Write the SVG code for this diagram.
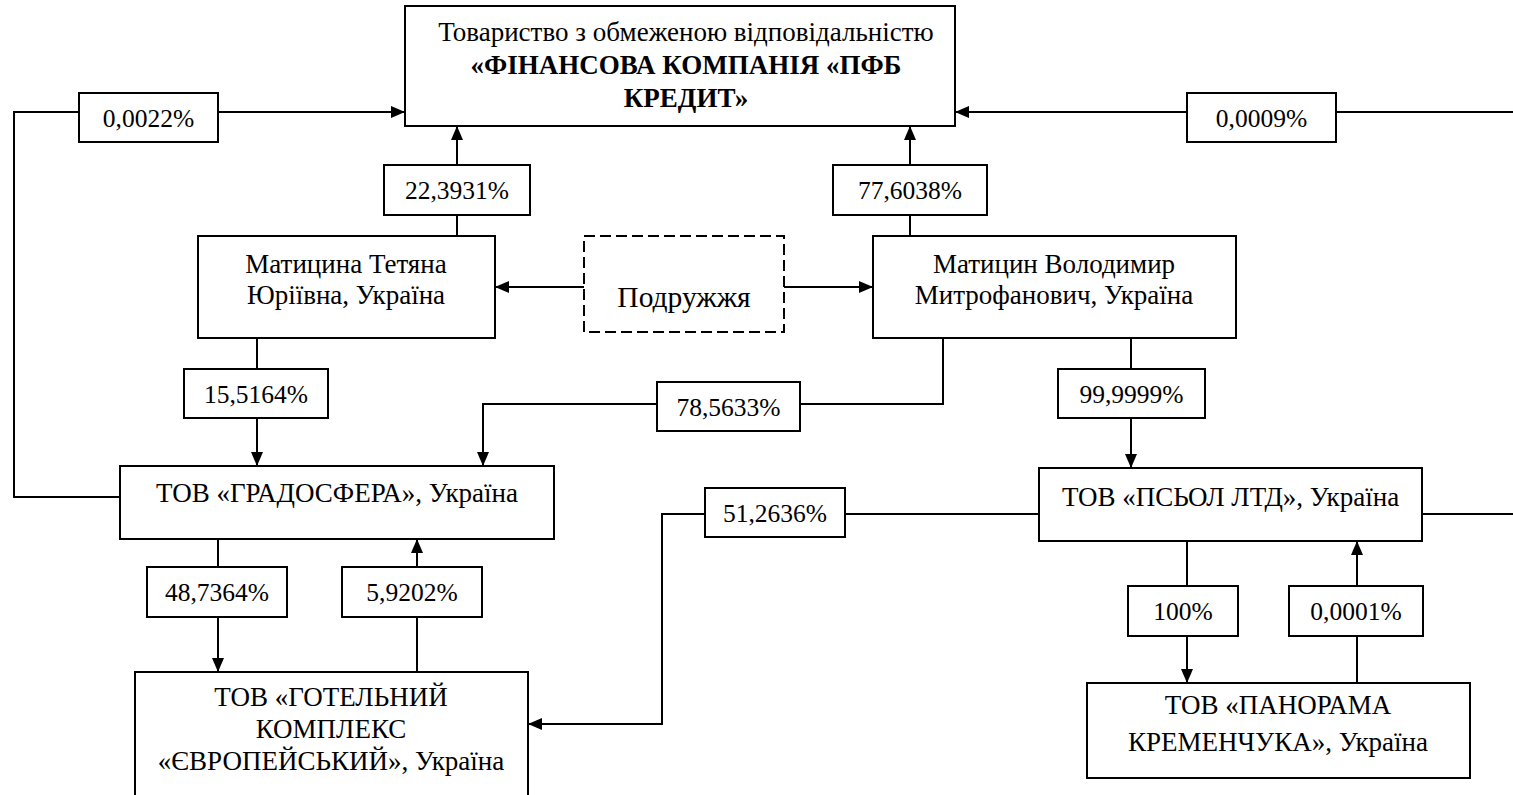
<svg xmlns="http://www.w3.org/2000/svg" width="1513" height="795" viewBox="0 0 1513 795">
<style>
.box{fill:#fff;stroke:#000;stroke-width:2}
.dash{fill:#fff;stroke:#000;stroke-width:2;stroke-dasharray:11 5}
.ln{fill:none;stroke:#000;stroke-width:2}
.arr{fill:none;stroke:#000;stroke-width:2;marker-end:url(#ah)}
text{font-family:"Liberation Serif","Times New Roman",serif;font-size:27px;fill:#000;text-anchor:middle}
.lbl{font-size:25.5px}
.b{font-weight:bold}
.big{font-size:29.5px}
</style>
<defs>
<marker id="ah" markerUnits="userSpaceOnUse" markerWidth="14" markerHeight="12" refX="14" refY="6" orient="auto">
<path d="M0,0 L14,6 L0,12 z" fill="#000"/>
</marker>
</defs>
<rect width="1513" height="795" fill="#fff"/>
<g id="connectors">
<path class="ln" d="M120,497 H14 V112 H79"/>
<path class="arr" d="M218,112 H405"/>
<path class="ln" d="M1422,514 H1520 V112 H1336"/>
<path class="arr" d="M1187,112 H955"/>
<path class="ln" d="M457,236 V215"/>
<path class="arr" d="M457,165 V126"/>
<path class="ln" d="M910,236 V215"/>
<path class="arr" d="M910,165 V126"/>
<path class="arr" d="M584,287 H495"/>
<path class="arr" d="M784,287 H873"/>
<path class="ln" d="M257,338 V369"/>
<path class="arr" d="M257,418 V466"/>
<path class="ln" d="M943,338 V404 H800"/>
<path class="arr" d="M657,404 H483 V466"/>
<path class="ln" d="M1131,338 V369"/>
<path class="arr" d="M1131,418 V468"/>
<path class="ln" d="M218,539 V567"/>
<path class="arr" d="M218,617 V672"/>
<path class="ln" d="M417,672 V617"/>
<path class="arr" d="M417,567 V539"/>
<path class="ln" d="M1039,514 H845"/>
<path class="arr" d="M705,514 H662 V724 H528"/>
<path class="ln" d="M1187,541 V586"/>
<path class="arr" d="M1187,636 V683"/>
<path class="ln" d="M1357,683 V636"/>
<path class="arr" d="M1357,586 V541"/>
</g>
<g id="n-top"><rect class="box" x="405" y="6" width="550" height="120"/>
<text x="686" y="41">Товариство з обмеженою відповідальністю</text>
<text class="b" x="686" y="74">«ФІНАНСОВА КОМПАНІЯ «ПФБ</text>
<text class="b" x="686" y="107">КРЕДИТ»</text></g>
<g id="l-0022"><rect class="box" x="79" y="93" width="139" height="49"/><text class="lbl" x="148.5" y="127">0,0022%</text></g>
<g id="l-0009"><rect class="box" x="1187" y="93" width="149" height="49"/><text class="lbl" x="1261.5" y="127">0,0009%</text></g>
<g id="l-223931"><rect class="box" x="384" y="165" width="146" height="50"/><text class="lbl" x="457" y="199">22,3931%</text></g>
<g id="l-776038"><rect class="box" x="833" y="165" width="154" height="50"/><text class="lbl" x="910" y="199">77,6038%</text></g>
<g id="n-tetiana"><rect class="box" x="198" y="236" width="297" height="102"/>
<text x="346" y="273">Матицина Тетяна</text><text x="346" y="304">Юріївна, Україна</text></g>
<g id="n-spouses"><rect class="dash" x="584" y="236" width="200" height="96"/><text class="big" x="684" y="307">Подружжя</text></g>
<g id="n-volodymyr"><rect class="box" x="873" y="236" width="363" height="102"/>
<text x="1054" y="273">Матицин Володимир</text><text x="1054" y="304">Митрофанович, Україна</text></g>
<g id="l-155164"><rect class="box" x="184" y="369" width="144" height="49"/><text class="lbl" x="256" y="403">15,5164%</text></g>
<g id="l-785633"><rect class="box" x="657" y="382" width="143" height="49"/><text class="lbl" x="728.5" y="416">78,5633%</text></g>
<g id="l-999999"><rect class="box" x="1058" y="369" width="147" height="49"/><text class="lbl" x="1131.5" y="403">99,9999%</text></g>
<g id="n-gradosfera"><rect class="box" x="120" y="466" width="434" height="73"/><text x="337" y="502">ТОВ «ГРАДОСФЕРА», Україна</text></g>
<g id="l-512636"><rect class="box" x="705" y="488" width="140" height="49"/><text class="lbl" x="775" y="522">51,2636%</text></g>
<g id="n-psol"><rect class="box" x="1039" y="468" width="383" height="73"/><text x="1230.5" y="506">ТОВ «ПСЬОЛ ЛТД», Україна</text></g>
<g id="l-487364"><rect class="box" x="147" y="567" width="140" height="50"/><text class="lbl" x="217" y="601">48,7364%</text></g>
<g id="l-59202"><rect class="box" x="342" y="567" width="140" height="50"/><text class="lbl" x="412" y="601">5,9202%</text></g>
<g id="l-100"><rect class="box" x="1128" y="586" width="110" height="50"/><text class="lbl" x="1183" y="620">100%</text></g>
<g id="l-00001"><rect class="box" x="1289" y="586" width="134" height="50"/><text class="lbl" x="1356" y="620">0,0001%</text></g>
<g id="n-hotel"><rect class="box" x="135" y="672" width="393" height="135"/>
<text x="331" y="706">ТОВ «ГОТЕЛЬНИЙ</text><text x="331" y="738">КОМПЛЕКС</text><text x="331" y="770">«ЄВРОПЕЙСЬКИЙ», Україна</text></g>
<g id="n-panorama"><rect class="box" x="1087" y="683" width="383" height="95"/>
<text x="1278" y="714">ТОВ «ПАНОРАМА</text><text x="1278" y="751">КРЕМЕНЧУКА», Україна</text></g>
</svg>
